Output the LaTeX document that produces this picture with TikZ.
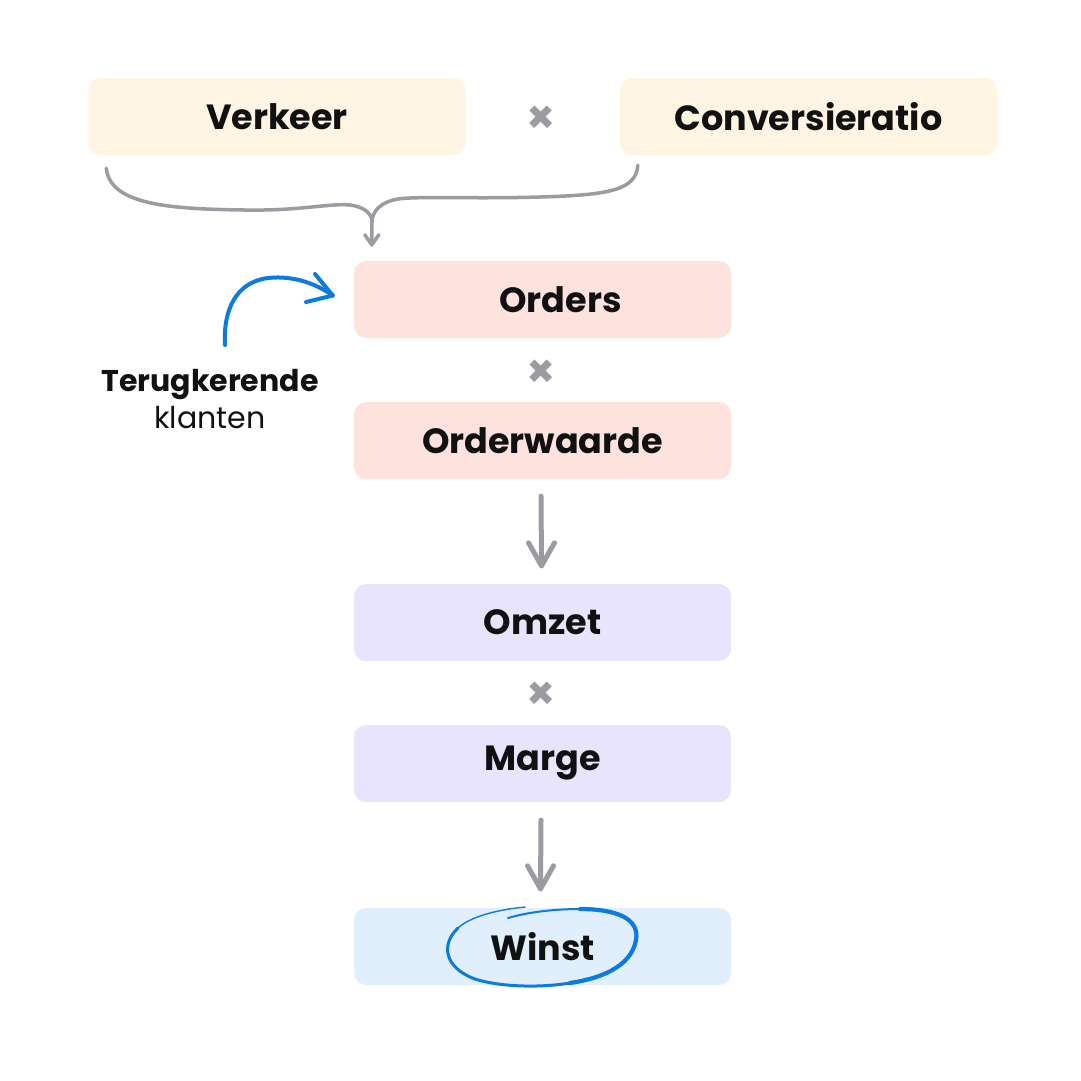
\documentclass[tikz,border=0pt]{standalone}
\usepackage{fontspec}
\setmainfont{Poppins}
\usetikzlibrary{arrows.meta,calc}
\definecolor{cream}{HTML}{FFF5E2}
\definecolor{pinkbox}{HTML}{FDE2DE}
\definecolor{purplebox}{HTML}{E8E4FD}
\definecolor{bluebox}{HTML}{E1EEFC}
\definecolor{arrowgray}{HTML}{9B9BA1}
\definecolor{penblue}{HTML}{0B7BE0}
\definecolor{ink}{HTML}{111111}
\begin{document}
\begin{tikzpicture}[x=1pt,y=-1pt,
  box/.style={rectangle, rounded corners=12pt, minimum width=377pt, minimum height=77pt, inner sep=0pt, text=ink, font=\fontsize{35}{40}\selectfont\bfseries},
  times/.style={text=arrowgray, font=\fontsize{46}{50}\selectfont\bfseries, inner sep=0pt},
  grayarrow/.style={draw=arrowgray, line width=5pt, line cap=round, line join=round},
  brace/.style={draw=arrowgray, line width=3.5pt, line cap=round, line join=round},
  pen/.style={draw=penblue, line cap=round, line join=round}]
\useasboundingbox (0,0) rectangle (1081,1080);
\fill[white] (0,0) rectangle (1081,1080);

\node[box, fill=cream] (verkeer) at (277,116.5) {Verkeer};
\node[box, fill=cream] (conv) at (808.5,116.5) {Conversieratio};
\node[times] (x1) at (541,120) {×};

\node[box, fill=pinkbox] (orders) at (542.5,299.5) {\hspace{36pt}Orders};
\node[times] (x2) at (541,374) {×};
\node[box, fill=pinkbox] (waarde) at (542.5,440.5) {Orderwaarde};

\node[box, fill=purplebox] (omzet) at (542.5,622.5) {Omzet};
\node[times] (x3) at (541,696) {×};
\node[box, fill=purplebox] (marge) at (542.5,763.5) {Marge};

\node[box, fill=bluebox] (winst) at (542.5,946.5) {Winst};

% brace from Verkeer and Conversieratio to Orders
\coordinate (bl) at ($(verkeer.south west)+(18,13)$);
\coordinate (br) at ($(conv.south west)+(18,10)$);
\coordinate (bm) at (372,222);
\coordinate (btip) at ($(orders.north west)+(18,-16)$);
\draw[brace] (bl) .. controls (110,205) and (170,209) .. (245,210)
  .. controls (300,211) and (330,203) .. (350,205)
  .. controls (365,207) and (372,214) .. (bm) -- (btip);
\draw[brace] (br) .. controls (636,190) and (610,195) .. (540,197)
  .. controls (470,199) and (420,196) .. (398,199)
  .. controls (380,202) and (372,212) .. (bm);
\draw[brace] ($(btip)+(-7,-10)$) -- (btip) -- ($(btip)+(7,-10)$);

% gray arrows
\coordinate (a1s) at ($(waarde.south)+(-1.5,17)$);
\coordinate (a1e) at ($(omzet.north)+(-1,-18)$);
\draw[grayarrow] (a1s) -- (a1e);
\draw[grayarrow] ($(a1e)+(-13,-23)$) -- (a1e) -- ($(a1e)+(13,-23)$);
\coordinate (a2s) at ($(marge.south)+(-1.5,18)$);
\coordinate (a2e) at ($(winst.north)+(-2,-19)$);
\draw[grayarrow] (a2s) -- (a2e);
\draw[grayarrow] ($(a2e)+(-13,-23)$) -- (a2e) -- ($(a2e)+(13,-23)$);

% blue arrow from label to Orders
\node[inner sep=0pt, text=ink, align=center, font=\fontsize{30}{37}\selectfont] (label) at (210,399) {\textbf{Terugkerende}\\klanten};
\coordinate (ltail) at (225,345);
\coordinate (ltip) at ($(orders.west)+(-21,-4)$);
\draw[pen, line width=4pt] (ltail) .. controls (223,310) and (236,282) .. (268,278)
  .. controls (295,275) and (318,285) .. (ltip);
\draw[pen, line width=4pt] (315,274) -- (ltip) -- (306,302);

% hand-drawn ellipse round Winst
\coordinate (e1) at (525,907);
\draw[pen, line width=1.4pt] (e1) .. controls (495,910) and (470,917) .. (458,928);
\draw[pen, line width=3pt] (458,928) .. controls (440,945) and (445,968) .. (475,979)
  .. controls (500,987) and (540,988) .. (570,983);
\draw[pen, line width=4.2pt] (570,983) .. controls (610,977) and (632,962) .. (636,940)
  .. controls (640,918) and (615,909) .. (580,909);
\draw[pen, line width=2pt] (580,909) .. controls (555,909) and (528,912) .. (508,918);
\end{tikzpicture}
\end{document}
